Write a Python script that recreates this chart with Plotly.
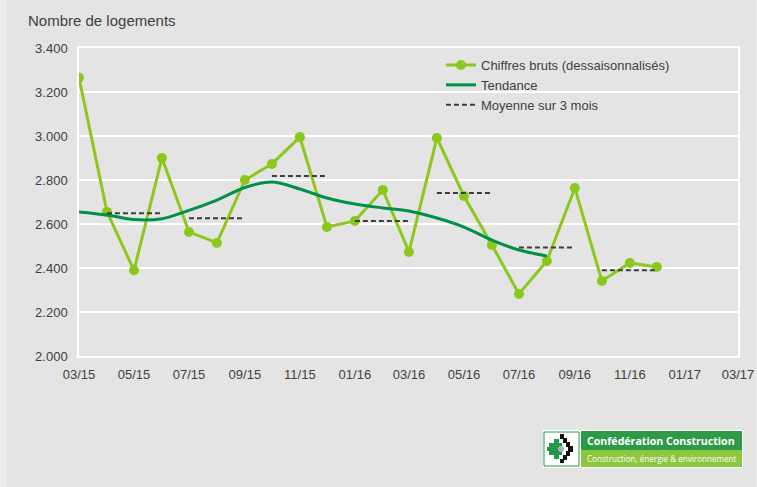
import plotly.graph_objects as go

# ---- data ----
months = ["2015-03-01", "2015-04-01", "2015-05-01", "2015-06-01", "2015-07-01", "2015-08-01",
          "2015-09-01", "2015-10-01", "2015-11-01", "2015-12-01", "2016-01-01", "2016-02-01",
          "2016-03-01", "2016-04-01", "2016-05-01", "2016-06-01", "2016-07-01", "2016-08-01",
          "2016-09-01", "2016-10-01", "2016-11-01", "2016-12-01"]
raw_values = [3265, 2655, 2390, 2900, 2564, 2514, 2800, 2873, 2995, 2586, 2614, 2755,
              2473, 2991, 2727, 2505, 2282, 2432, 2764, 2341, 2423, 2405]
trend_months = months[:18]
trend_values = [2655, 2641, 2620, 2624, 2662, 2709, 2766, 2791, 2759, 2718, 2691, 2673,
                2659, 2627, 2586, 2527, 2482, 2455]
avg_starts = ["2015-04-01", "2015-07-01", "2015-10-01", "2016-01-01", "2016-04-01", "2016-07-01", "2016-10-01"]
avg_ends = ["2015-06-01", "2015-09-01", "2015-12-01", "2016-03-01", "2016-06-01", "2016-09-01", "2016-12-01"]
avg_values = [2649, 2626, 2818, 2614, 2741, 2493, 2390]

names = ["Chiffres bruts (dessaisonnalisés)", "Tendance", "Moyenne sur 3 mois"]
y_title = "Nombre de logements"
logo_title = "Confédération Construction"
logo_sub = "Construction, énergie & environnement"

# ---- geometry helpers (pixels -> paper) ----
W, H = 757, 487
L, R, T, B = 79, 738, 48, 356
def xp(px):
    return (px - L) / (R - L)
def yp(py):
    return (B - py) / (B - T)

TEXT = "#404040"
FONT = "Liberation Sans, Arial, sans-serif"

fig = go.Figure()

fig.add_trace(go.Scatter(
    x=months, y=raw_values, name=names[0], mode="lines+markers",
    line=dict(color="#8cc81c", width=3), marker=dict(size=10, color="#8cc81c"),
    legendgroup="a"))
fig.add_trace(go.Scatter(
    x=trend_months, y=trend_values, name=names[1], mode="lines",
    line=dict(color="#00904a", width=3, shape="spline", smoothing=1.0),
    legendgroup="b"))

ax, ay = [], []
for s, e, v in zip(avg_starts, avg_ends, avg_values):
    ax += [s, e, None]
    ay += [v, v, None]
fig.add_trace(go.Scatter(
    x=ax, y=ay, name=names[2], mode="lines",
    line=dict(color="#3c3c3c", width=2, dash="5px,3px"),
    connectgaps=False, legendgroup="c"))

shapes = []
# lighter left/right strips of the picture
shapes.append(dict(type="rect", xref="paper", yref="paper", x0=xp(0), x1=xp(7), y0=yp(H), y1=yp(0),
                   fillcolor="#ececec", line=dict(width=0), layer="below"))
shapes.append(dict(type="rect", xref="paper", yref="paper", x0=xp(756), x1=xp(757), y0=yp(H), y1=yp(0),
                   fillcolor="#ececec", line=dict(width=0), layer="below"))
# logo frame
shapes.append(dict(type="rect", xref="paper", yref="paper", x0=xp(543), x1=xp(743), y0=yp(468), y1=yp(430),
                   fillcolor="#ffffff", line=dict(width=0)))
shapes.append(dict(type="rect", xref="paper", yref="paper", x0=xp(581), x1=xp(742), y0=yp(450), y1=yp(431),
                   fillcolor="#2e9a48", line=dict(width=0)))
shapes.append(dict(type="rect", xref="paper", yref="paper", x0=xp(581), x1=xp(742), y0=yp(467), y1=yp(450),
                   fillcolor="#8dc63f", line=dict(width=0)))
shapes.append(dict(type="rect", xref="paper", yref="paper", x0=xp(544), x1=xp(579), y0=yp(466), y1=yp(432),
                   fillcolor="#ffffff", line=dict(color="#2e9a48", width=1)))
# icon
def path(points):
    return "M " + " L ".join(f"{xp(a)},{yp(b)}" for a, b in points) + " Z"
green_pts = [(554, 439), (559, 439), (559, 443), (562, 443), (562, 455), (559, 455), (559, 459),
             (554, 459), (554, 455), (549, 455), (549, 451), (547, 451), (547, 447), (549, 447),
             (549, 443), (554, 443)]
shapes.append(dict(type="path", xref="paper", yref="paper", path=path(green_pts),
                   fillcolor="#1f9a46", line=dict(width=0)))
black_pts = [(560, 434), (564, 434), (564, 438), (567, 438), (567, 442), (570, 442), (570, 446),
             (573, 446), (573, 452), (570, 452), (570, 456), (567, 456), (567, 460), (564, 460),
             (564, 463), (560, 463), (560, 459), (563, 459), (563, 455), (566, 455), (566, 451),
             (568, 451), (568, 447), (566, 447), (566, 443), (563, 443), (563, 439), (560, 439)]
shapes.append(dict(type="path", xref="paper", yref="paper", path=path(black_pts),
                   fillcolor="#111111", line=dict(width=0)))
shapes.append(dict(type="circle", xref="paper", yref="paper", x0=xp(558), x1=xp(564), y0=yp(452), y1=yp(446),
                   fillcolor="#b0b0b0", line=dict(width=0)))

annotations = [
    dict(text=y_title, xref="paper", yref="paper", x=xp(26), y=yp(20), xanchor="left", yanchor="middle",
         showarrow=False, font=dict(size=15, color=TEXT, family=FONT)),
    dict(text="<b>" + logo_title + "</b>", xref="paper", yref="paper", x=xp(585), y=yp(441),
         xanchor="left", yanchor="middle", showarrow=False,
         font=dict(size=10.6, color="#ffffff", family="Open Sans, sans-serif")),
    dict(text=logo_sub, xref="paper", yref="paper", x=xp(585), y=yp(459),
         xanchor="left", yanchor="middle", showarrow=False,
         font=dict(size=8.1, color="#ffffff", family="Open Sans, sans-serif")),
]

fig.update_layout(
    width=W, height=H, autosize=False,
    margin=dict(l=L, r=W - R, t=T, b=H - B, pad=0),
    paper_bgcolor="#e4e4e4", plot_bgcolor="#e4e4e4",
    separators=",.",
    font=dict(family=FONT, size=13, color=TEXT),
    showlegend=True,
    legend=dict(x=xp(441), y=yp(50), xanchor="left", yanchor="top",
                bgcolor="rgba(0,0,0,0)", font=dict(size=13, color=TEXT),
                traceorder="grouped", tracegroupgap=0, itemwidth=30),
    shapes=shapes, annotations=annotations,
)
fig.update_xaxes(type="date", range=["2015-03-01", "2017-03-01"], dtick="M2", tick0="2015-03-01",
                 tickformat="%m/%y", showgrid=False, showline=True, linecolor="#ffffff", linewidth=1.5,
                 mirror=True, ticks="", ticklabelstandoff=6, tickfont=dict(size=13, color=TEXT),
                 zeroline=False, automargin=False)
fig.update_yaxes(range=[2000, 3400], dtick=200, tickformat=",d", showgrid=True, gridcolor="#ffffff",
                 gridwidth=1.5, showline=True, linecolor="#ffffff", linewidth=1.5, mirror=True,
                 ticks="", ticklabelstandoff=7, tickfont=dict(size=13, color=TEXT), zeroline=False,
                 automargin=False)

post = "document.body.style.margin='0';document.body.style.overflow='hidden';"
fig.write_html("out.html", config={"displayModeBar": False, "responsive": False}, post_script=post)
